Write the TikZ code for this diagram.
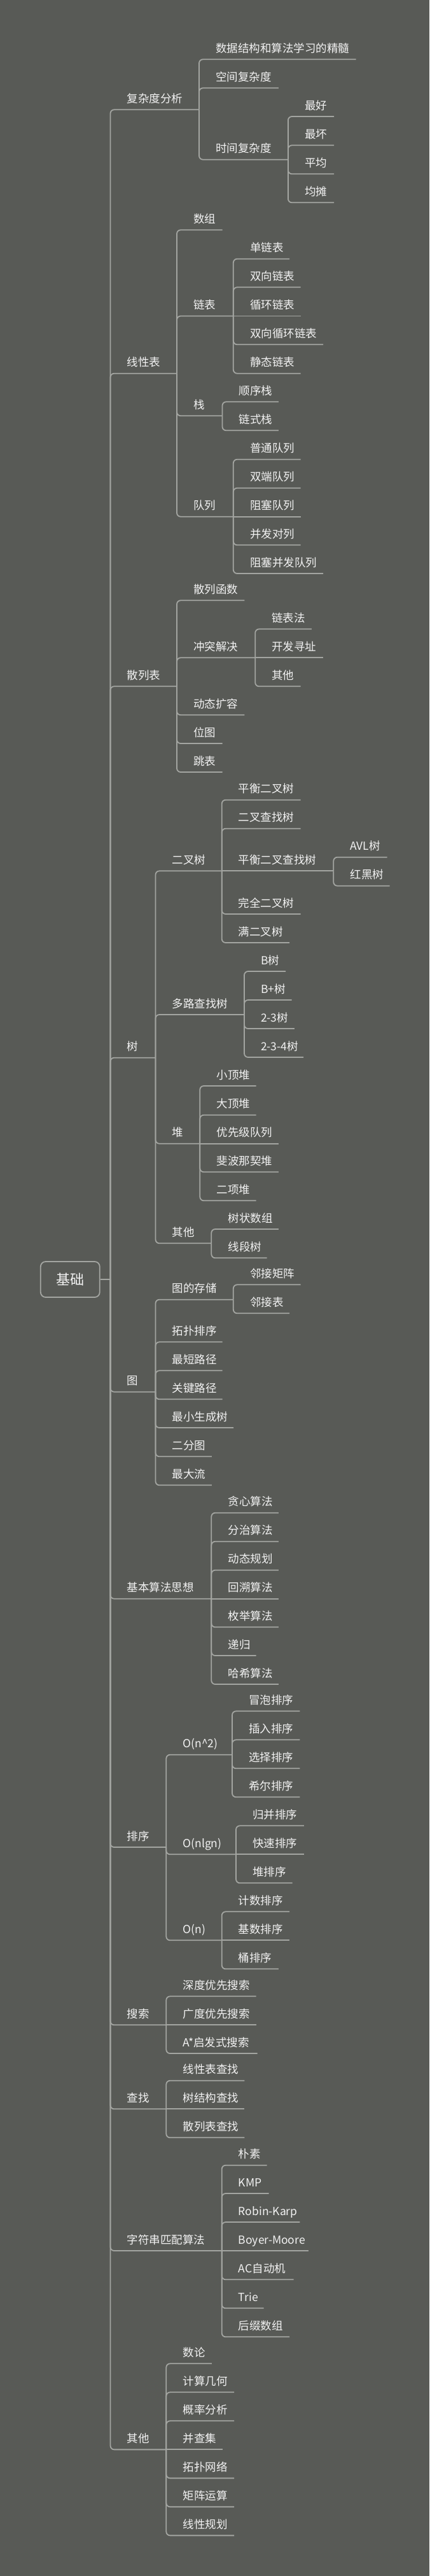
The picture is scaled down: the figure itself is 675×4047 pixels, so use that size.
\documentclass[tikz,border=0pt]{standalone}
\usepackage{fontspec}
\setmainfont{Noto Sans CJK SC}
\definecolor{bgc}{HTML}{585A56}
\definecolor{linec}{HTML}{A3A5A1}
\definecolor{txtc}{HTML}{F2F2F2}
\tikzset{
  lbl/.style={inner sep=0pt, anchor=base west, text=txtc, font=\fontsize{17.5}{21}\selectfont},
  conn/.style={draw=linec, line width=1.8pt, rounded corners=6pt},
  rootbox/.style={draw=linec, line width=1.8pt, rounded corners=8pt, fill=bgc, text=txtc,
    minimum width=93pt, minimum height=56pt, inner sep=0pt, font=\fontsize{22}{26}\selectfont}
}
% #1 name, #2 parent coordinate, #3 spine x, #4 y, #5 end x, #6 text
\newcommand\mmbranch[6]{%
  \coordinate (#1) at (#5,#4);
  \node[lbl] (#1t) at ({#3+26},{#4-11}) {#6};
  \draw[conn] (#2) |- (#1);
}
\newcommand\mmstraight[6]{%
  \coordinate (#1) at (#5,#4);
  \node[lbl] (#1t) at ({#3+26},{#4-11}) {#6};
  \draw[conn] (#2) -- (#1);
}
\begin{document}
\begin{tikzpicture}[x=1pt,y=-1pt]
\fill[bgc] (0,0) rectangle (675,4047);
\useasboundingbox (0,0) rectangle (675,4047);

\node[rootbox] (root) at (110.3,2010) {基础};
\coordinate (rootJ) at (173.5,2010);
\draw[conn] (root.east) -- (rootJ);

% level 1
\mmbranch{A}{rootJ}{173.5}{172.3}{313}{复杂度分析}
\mmbranch{B}{rootJ}{173.5}{586.7}{278}{线性表}
\mmbranch{C}{rootJ}{173.5}{1078.3}{278}{散列表}
\mmbranch{D}{rootJ}{173.5}{1661.7}{244.5}{树}
\mmbranch{E}{rootJ}{173.5}{2186.7}{244.5}{图}
\mmbranch{F}{rootJ}{173.5}{2511.7}{332.3}{基本算法思想}
\mmbranch{G}{rootJ}{173.5}{2902}{261.3}{排序}
\mmbranch{H}{rootJ}{173.5}{3181.3}{261.3}{搜索}
\mmbranch{I}{rootJ}{173.5}{3313.3}{261.3}{查找}
\mmbranch{J}{rootJ}{173.5}{3536}{348.7}{字符串匹配算法}
\mmbranch{K}{rootJ}{173.5}{3848.3}{261.3}{其他}

% A
\mmbranch{A1}{A}{313}{93.3}{559.6}{数据结构和算法学习的精髓}
\mmbranch{A2}{A}{313}{138.3}{437.8}{空间复杂度}
\mmbranch{A3}{A}{313}{250.7}{452.9}{时间复杂度}
\mmbranch{A31}{A3}{452.9}{183}{525}{最好}
\mmbranch{A32}{A3}{452.9}{228.3}{525}{最坏}
\mmbranch{A33}{A3}{452.9}{273.3}{525}{平均}
\mmbranch{A34}{A3}{452.9}{318.3}{525}{均摊}

% B
\mmbranch{B1}{B}{278}{361.3}{349.5}{数组}
\mmbranch{B2}{B}{278}{496.5}{366.8}{链表}
\mmbranch{B21}{B2}{366.8}{406.7}{455}{单链表}
\mmbranch{B22}{B2}{366.8}{451.3}{472.7}{双向链表}
\mmstraight{B23}{B2}{366.8}{496.5}{472.7}{循环链表}
\mmbranch{B24}{B2}{366.8}{541.3}{508}{双向循环链表}
\mmbranch{B25}{B2}{366.8}{586.7}{472.7}{静态链表}
\mmbranch{B3}{B}{278}{653.3}{349.5}{栈}
\mmbranch{B31}{B3}{349.5}{631.3}{437.8}{顺序栈}
\mmbranch{B32}{B3}{349.5}{676.3}{437.8}{链式栈}
\mmbranch{B4}{B}{278}{811.7}{366.8}{队列}
\mmbranch{B41}{B4}{366.8}{721.7}{472.7}{普通队列}
\mmbranch{B42}{B4}{366.8}{766.7}{472.7}{双端队列}
\mmstraight{B43}{B4}{366.8}{811.7}{472.7}{阻塞队列}
\mmbranch{B44}{B4}{366.8}{856.3}{472.7}{并发对列}
\mmbranch{B45}{B4}{366.8}{901}{508}{阻塞并发队列}

% C
\mmbranch{C1}{C}{278}{943.3}{384.4}{散列函数}
\mmbranch{C2}{C}{278}{1033.3}{401.2}{冲突解决}
\mmbranch{C21}{C2}{401.2}{988.3}{489.9}{链表法}
\mmstraight{C22}{C2}{401.2}{1033.3}{508}{开发寻址}
\mmbranch{C23}{C2}{401.2}{1078.3}{472.7}{其他}
\mmbranch{C3}{C}{278}{1123.3}{384.4}{动态扩容}
\mmbranch{C4}{C}{278}{1168}{349.5}{位图}
\mmbranch{C5}{C}{278}{1213}{349.5}{跳表}

% D
\mmbranch{D1}{D}{244.5}{1368.3}{348.7}{二叉树}
\mmbranch{D11}{D1}{348.7}{1256.7}{472.7}{平衡二叉树}
\mmbranch{D12}{D1}{348.7}{1301.7}{472.7}{二叉查找树}
\mmstraight{D13}{D1}{348.7}{1368.3}{524.3}{平衡二叉查找树}
\mmbranch{D131}{D13}{524.3}{1346.7}{608.7}{AVL树}
\mmbranch{D132}{D13}{524.3}{1391.7}{612.6}{红黑树}
\mmbranch{D14}{D1}{348.7}{1436}{472.7}{完全二叉树}
\mmbranch{D15}{D1}{348.7}{1481}{455}{满二叉树}
\mmbranch{D2}{D}{244.5}{1594}{384}{多路查找树}
\mmbranch{D21}{D2}{384}{1526}{449}{B树}
\mmbranch{D22}{D2}{384}{1571}{458.5}{B+树}
\mmbranch{D23}{D2}{384}{1616}{462.8}{2-3树}
\mmbranch{D24}{D2}{384}{1661}{477}{2-3-4树}
\mmbranch{D3}{D}{244.5}{1796.7}{314.3}{堆}
\mmbranch{D31}{D3}{314.3}{1706}{402.5}{小顶堆}
\mmbranch{D32}{D3}{314.3}{1751.7}{402.5}{大顶堆}
\mmstraight{D33}{D3}{314.3}{1796.7}{437.8}{优先级队列}
\mmbranch{D34}{D3}{314.3}{1841.3}{437.8}{斐波那契堆}
\mmbranch{D35}{D3}{314.3}{1886.3}{402.5}{二项堆}
\mmbranch{D4}{D}{244.5}{1953.3}{332.3}{其他}
\mmbranch{D41}{D4}{332.3}{1931}{437.8}{树状数组}
\mmbranch{D42}{D4}{332.3}{1976.3}{419.7}{线段树}

% E
\mmbranch{E1}{E}{244.5}{2041.7}{366.8}{图的存储}
\mmbranch{E11}{E1}{366.8}{2018.3}{472.7}{邻接矩阵}
\mmbranch{E12}{E1}{366.8}{2063.3}{455}{邻接表}
\mmbranch{E2}{E}{244.5}{2108.3}{349.5}{拓扑排序}
\mmbranch{E3}{E}{244.5}{2153.3}{349.5}{最短路径}
\mmbranch{E4}{E}{244.5}{2198.3}{349.5}{关键路径}
\mmbranch{E5}{E}{244.5}{2243}{367.2}{最小生成树}
\mmbranch{E6}{E}{244.5}{2288.3}{332.8}{二分图}
\mmbranch{E7}{E}{244.5}{2333.3}{332.8}{最大流}

% F
\mmbranch{F1}{F}{332.3}{2376.7}{437.8}{贪心算法}
\mmbranch{F2}{F}{332.3}{2421.7}{437.8}{分治算法}
\mmbranch{F3}{F}{332.3}{2466.7}{437.8}{动态规划}
\mmstraight{F4}{F}{332.3}{2511.7}{437.8}{回溯算法}
\mmbranch{F5}{F}{332.3}{2556.3}{437.8}{枚举算法}
\mmbranch{F6}{F}{332.3}{2601}{402.5}{递归}
\mmbranch{F7}{F}{332.3}{2646}{437.8}{哈希算法}

% G
\mmbranch{G1}{G}{261.3}{2756.7}{365}{O(n\textasciicircum 2)}
\mmbranch{G11}{G1}{365}{2688.3}{471.4}{冒泡排序}
\mmbranch{G12}{G1}{365}{2733.3}{471.4}{插入排序}
\mmbranch{G13}{G1}{365}{2778.3}{471.4}{选择排序}
\mmbranch{G14}{G1}{365}{2823.3}{471.4}{希尔排序}
\mmbranch{G2}{G}{261.3}{2913.3}{371}{O(nlgn)}
\mmbranch{G21}{G2}{371}{2868.3}{477.8}{归并排序}
\mmstraight{G22}{G2}{371}{2913.3}{477.8}{快速排序}
\mmbranch{G23}{G2}{371}{2958.3}{459.7}{堆排序}
\mmbranch{G3}{G}{261.3}{3048.3}{348.7}{O(n)}
\mmbranch{G31}{G3}{348.7}{3003.3}{455}{计数排序}
\mmstraight{G32}{G3}{348.7}{3048.3}{455}{基数排序}
\mmbranch{G33}{G3}{348.7}{3093.3}{437.8}{桶排序}

% H
\mmbranch{H1}{H}{261.3}{3136.3}{402.5}{深度优先搜索}
\mmstraight{H2}{H}{261.3}{3181.3}{402.5}{广度优先搜索}
\mmbranch{H3}{H}{261.3}{3226}{404.6}{A*启发式搜索}

% I
\mmbranch{I1}{I}{261.3}{3268.7}{384.4}{线性表查找}
\mmstraight{I2}{I}{261.3}{3313.3}{384.4}{树结构查找}
\mmbranch{I3}{I}{261.3}{3358.3}{384.4}{散列表查找}

% J
\mmbranch{J1}{J}{348.7}{3401.7}{419.7}{朴素}
\mmbranch{J2}{J}{348.7}{3446}{422.7}{KMP}
\mmbranch{J3}{J}{348.7}{3491}{471.4}{Robin-Karp}
\mmstraight{J4}{J}{348.7}{3536}{485.1}{Boyer-Moore}
\mmbranch{J5}{J}{348.7}{3581.3}{461.5}{AC自动机}
\mmbranch{J6}{J}{348.7}{3626.3}{414.5}{Trie}
\mmbranch{J7}{J}{348.7}{3671.3}{455}{后缀数组}

% K
\mmbranch{K1}{K}{261.3}{3713.3}{332.8}{数论}
\mmbranch{K2}{K}{261.3}{3758.3}{368}{计算几何}
\mmbranch{K3}{K}{261.3}{3803.3}{368}{概率分析}
\mmstraight{K4}{K}{261.3}{3848.3}{349.5}{并查集}
\mmbranch{K5}{K}{261.3}{3893.3}{368}{拓扑网络}
\mmbranch{K6}{K}{261.3}{3938.3}{368}{矩阵运算}
\mmbranch{K7}{K}{261.3}{3983.3}{368}{线性规划}
\end{tikzpicture}
\end{document}
